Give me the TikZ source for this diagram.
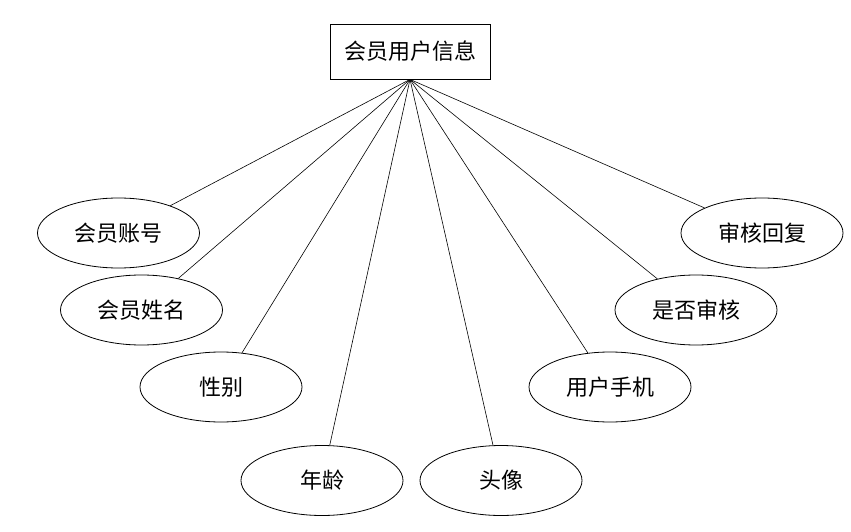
\documentclass[tikz,border=0pt]{standalone}
\usepackage{fontspec}
\newfontfamily\cjk{Noto Sans CJK SC}
\usetikzlibrary{shapes.geometric}
\begin{document}
\begin{tikzpicture}[x=1pt,y=-1pt,
  attr/.style={draw,ellipse,line width=0.8pt,minimum width=162pt,minimum height=70pt,inner sep=0pt,font=\cjk\fontsize{22}{26}\selectfont},
  entity/.style={draw,rectangle,line width=0.8pt,minimum width=160pt,minimum height=55pt,inner sep=0pt,font=\cjk\fontsize{22}{26}\selectfont},
  link/.style={line width=0.6pt}]
\useasboundingbox (0,0) rectangle (851,532);
\node[entity] (main) at (410,51.5) {会员用户信息};
\coordinate (hub) at (main.south);
\node[attr] (a1) at (118.5,233) {会员账号};
\node[attr] (a2) at (141.5,310) {会员姓名};
\node[attr] (a3) at (221,387) {性别};
\node[attr] (a4) at (322,480.5) {年龄};
\node[attr] (a5) at (501,480.5) {头像};
\node[attr] (a6) at (610,387) {用户手机};
\node[attr] (a7) at (696,310) {是否审核};
\node[attr] (a8) at (762,233) {审核回复};
\foreach \n in {a1,a2,a3,a4,a5,a6,a7,a8}
  \draw[link] (hub) -- (\n);
\end{tikzpicture}
\end{document}
